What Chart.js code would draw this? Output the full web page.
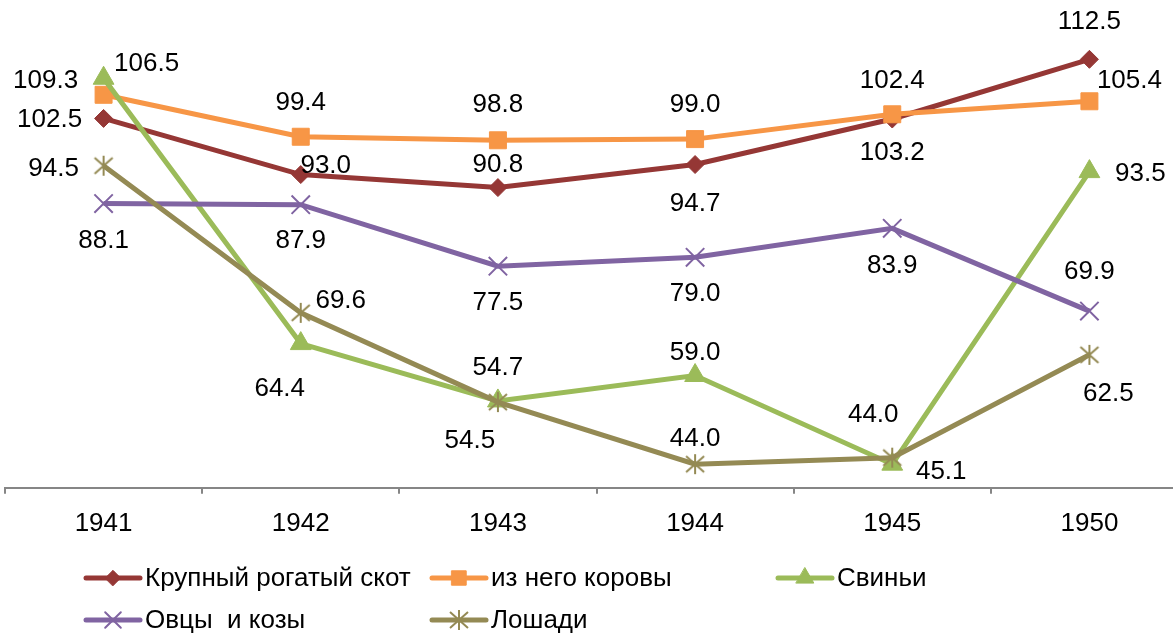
<!DOCTYPE html>
<html>
<head>
<meta charset="utf-8">
<script src="https://cdn.jsdelivr.net/npm/chart.js@4/dist/chart.umd.min.js"></script>
<style>
  html, body { margin: 0; padding: 0; background: #fff; overflow: hidden; }
  #wrap { width: 1173px; height: 635px; overflow: hidden; position: relative; }
  canvas { display: block; margin-left: -10px; }
</style>
</head>
<body>
<div id="wrap"><canvas id="chart" width="1213" height="635"></canvas></div>
<script>
const years = ["1941", "1942", "1943", "1944", "1945", "1950"];

const cattle = [102.5, 93.0, 90.8, 94.7, 102.4, 112.5];
const cows = [106.5, 99.4, 98.8, 99.0, 103.2, 105.4];
const pigs = [109.3, 64.4, 54.7, 59.0, 44.0, 93.5];
const sheep = [88.1, 87.9, 77.5, 79.0, 83.9, 69.9];
const horses = [94.5, 69.6, 54.5, 44.0, 45.1, 62.5];

const names = ["Крупный рогатый скот", "из него коровы", "Свиньи", "Овцы  и козы", "Лошади"];

// label offsets from the point (dx, dy), one per value
const labelShift = [
  [[-54, 1], [25, -9], [0, -23], [0, 39], [0, -38], [0, -37]],
  [[43, -31], [0, -34], [0, -35], [0, -34], [0, 39], [40, -20]],
  [[-58, 3], [-21, 45], [0, -33], [0, -23], [-19, -49], [51, 2]],
  [[0, 37], [0, 36], [0, 37], [0, 37], [0, 37], [0, -39]],
  [[-50, 3], [40, -12], [-28, 39], [0, -25], [49, 14], [19, 39]]
];

const FAMILY = '"Liberation Sans", Arial, sans-serif';
const FONT = '26px ' + FAMILY;

// excel-like asterisk marker
function asterisk(color) {
  const c = document.createElement("canvas");
  c.width = 22; c.height = 22;
  const g = c.getContext("2d");
  g.strokeStyle = color;
  g.lineWidth = 2;
  g.beginPath();
  g.moveTo(11, 1); g.lineTo(11, 21);
  g.moveTo(2, 3); g.lineTo(20, 19);
  g.moveTo(20, 3); g.lineTo(2, 19);
  g.stroke();
  return c;
}

const colors = ["#953735", "#F79646", "#9BBB59", "#8064A2", "#948A54"];
const styles = ["rectRot", "rect", "triangle", "crossRot", asterisk("#948A54")];
const radii = [9, 12, 12, 13, 11];
const series = [cattle, cows, pigs, sheep, horses];

const datasets = series.map((d, i) => ({
  label: names[i],
  data: d,
  borderColor: colors[i],
  backgroundColor: colors[i],
  borderWidth: 5,
  pointStyle: styles[i],
  pointRadius: radii[i],
  pointHoverRadius: radii[i],
  pointBorderWidth: i >= 3 ? 2 : 1,
  tension: 0,
  order: 4 - i
}));

const labelsPlugin = {
  id: "valueLabels",
  afterDatasetsDraw(chart) {
    const ctx = chart.ctx;
    ctx.save();
    ctx.font = FONT;
    ctx.fillStyle = "#000";
    ctx.textAlign = "center";
    ctx.textBaseline = "middle";
    chart.data.datasets.forEach((ds, i) => {
      chart.getDatasetMeta(i).data.forEach((pt, j) => {
        const s = labelShift[i][j];
        ctx.fillText(ds.data[j].toFixed(1), pt.x + s[0], pt.y + s[1]);
      });
    });
    ctx.restore();
  }
};

// legend spots in page coordinates (canvas is shifted 10px left)
const legendSpots = [[86, 578], [432, 578], [778, 578], [86, 620], [432, 620]];

const legendPlugin = {
  id: "bottomLegend",
  afterDraw(chart) {
    const ctx = chart.ctx;
    ctx.save();
    ctx.translate(10, 0);
    chart.data.datasets.forEach((ds, i) => {
      const [x, y] = legendSpots[i];
      ctx.strokeStyle = ds.borderColor;
      ctx.lineWidth = 5;
      ctx.lineCap = "round";
      ctx.beginPath();
      ctx.moveTo(x, y);
      ctx.lineTo(x + 54, y);
      ctx.stroke();
      ctx.fillStyle = ds.backgroundColor;
      ctx.lineWidth = ds.pointBorderWidth;
      Chart.helpers.drawPoint(ctx, {
        pointStyle: ds.pointStyle, radius: ds.pointRadius * 0.85, rotation: 0, borderWidth: ds.pointBorderWidth
      }, x + 27, y);
      ctx.font = FONT;
      ctx.fillStyle = "#000";
      ctx.textAlign = "left";
      ctx.textBaseline = "middle";
      ctx.fillText(ds.label, x + 59, y + 1);
    });
    ctx.restore();
  }
};

new Chart(document.getElementById("chart"), {
  type: "line",
  data: { labels: years, datasets: datasets },
  options: {
    responsive: false,
    animation: false,
    layout: { padding: { left: 5, right: 2, top: 12, bottom: 82 } },
    plugins: { legend: { display: false }, tooltip: { enabled: false } },
    scales: {
      y: { display: false, min: 40, max: 120 },
      x: {
        offset: true,
        grid: { offset: true, drawOnChartArea: false, drawTicks: true, tickLength: 6, color: "#868686", lineWidth: 2 },
        border: { display: true, color: "#868686", width: 2 },
        ticks: { color: "#000", font: { family: FAMILY, size: 26 }, padding: 14, maxRotation: 0 }
      }
    }
  },
  plugins: [labelsPlugin, legendPlugin]
});
</script>
</body>
</html>
